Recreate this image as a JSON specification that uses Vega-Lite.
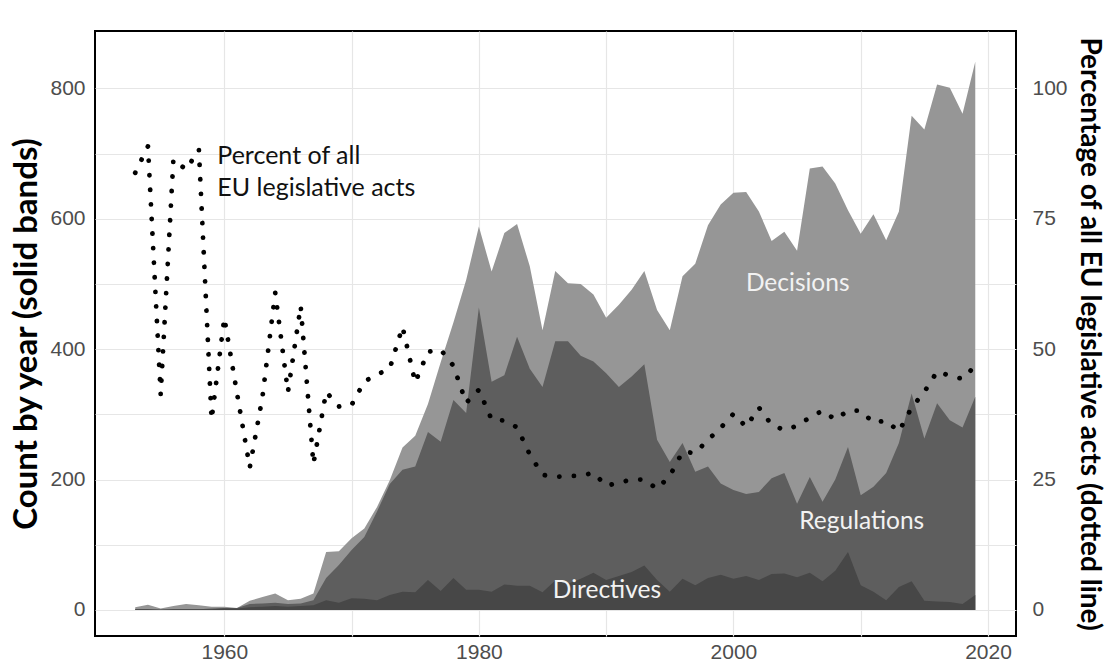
{
  "$schema": "https://vega.github.io/schema/vega-lite/v6.json",
  "autosize": "none",
  "width": 921,
  "height": 605,
  "padding": {"left": 95, "top": 31, "right": 93, "bottom": 30},
  "background": "white",
  "config": {
    "view": {"stroke": "black", "strokeWidth": 2},
    "axis": {
      "labelFont": "Liberation Sans",
      "labelFontSize": 21,
      "labelColor": "#4d4d4d",
      "ticks": false,
      "tickSize": 0,
      "domain": false,
      "gridColor": "#e6e6e6",
      "gridWidth": 1.2,
      "titleFont": "Lato",
      "titleFontWeight": "bold",
      "titleFontSize": 28,
      "titleColor": "black"
    }
  },
  "datasets": {
    "acts": [
      {"year": 1953, "directives": 1, "directives_regulations": 1, "all_acts": 4, "pct": 83.8},
      {"year": 1954, "directives": 1, "directives_regulations": 1, "all_acts": 8, "pct": 88.9},
      {"year": 1955, "directives": 0, "directives_regulations": 1, "all_acts": 2, "pct": 41.3},
      {"year": 1956, "directives": 1, "directives_regulations": 1, "all_acts": 6, "pct": 86.4},
      {"year": 1957, "directives": 1, "directives_regulations": 1, "all_acts": 9, "pct": 84.4},
      {"year": 1958, "directives": 1, "directives_regulations": 1, "all_acts": 7, "pct": 88.3},
      {"year": 1959, "directives": 1, "directives_regulations": 2, "all_acts": 5, "pct": 36.5},
      {"year": 1960, "directives": 2, "directives_regulations": 3, "all_acts": 5, "pct": 56.0},
      {"year": 1961, "directives": 2, "directives_regulations": 3, "all_acts": 3, "pct": 41.5},
      {"year": 1962, "directives": 4, "directives_regulations": 9, "all_acts": 14, "pct": 27.3},
      {"year": 1963, "directives": 5, "directives_regulations": 10, "all_acts": 20, "pct": 40.9},
      {"year": 1964, "directives": 6, "directives_regulations": 11, "all_acts": 25, "pct": 60.8},
      {"year": 1965, "directives": 5, "directives_regulations": 9, "all_acts": 15, "pct": 41.8},
      {"year": 1966, "directives": 6, "directives_regulations": 10, "all_acts": 17, "pct": 58.3},
      {"year": 1967, "directives": 7, "directives_regulations": 15, "all_acts": 25, "pct": 28.0},
      {"year": 1968, "directives": 15, "directives_regulations": 49, "all_acts": 89, "pct": 41.8},
      {"year": 1969, "directives": 11, "directives_regulations": 69, "all_acts": 90, "pct": 39.0},
      {"year": 1970, "directives": 18, "directives_regulations": 92, "all_acts": 110, "pct": 39.3},
      {"year": 1971, "directives": 17, "directives_regulations": 112, "all_acts": 125, "pct": 43.8},
      {"year": 1972, "directives": 15, "directives_regulations": 151, "all_acts": 158, "pct": 45.1},
      {"year": 1973, "directives": 23, "directives_regulations": 193, "all_acts": 199, "pct": 46.3},
      {"year": 1974, "directives": 28, "directives_regulations": 215, "all_acts": 249, "pct": 54.3},
      {"year": 1975, "directives": 27, "directives_regulations": 220, "all_acts": 267, "pct": 43.6},
      {"year": 1976, "directives": 46, "directives_regulations": 273, "all_acts": 316, "pct": 49.5},
      {"year": 1977, "directives": 29, "directives_regulations": 258, "all_acts": 380, "pct": 49.9},
      {"year": 1978, "directives": 49, "directives_regulations": 322, "all_acts": 441, "pct": 46.8},
      {"year": 1979, "directives": 31, "directives_regulations": 302, "all_acts": 506, "pct": 39.7},
      {"year": 1980, "directives": 31, "directives_regulations": 464, "all_acts": 588, "pct": 42.2},
      {"year": 1981, "directives": 28, "directives_regulations": 350, "all_acts": 519, "pct": 36.5},
      {"year": 1982, "directives": 39, "directives_regulations": 360, "all_acts": 578, "pct": 36.3},
      {"year": 1983, "directives": 37, "directives_regulations": 419, "all_acts": 592, "pct": 35.0},
      {"year": 1984, "directives": 37, "directives_regulations": 370, "all_acts": 527, "pct": 29.8},
      {"year": 1985, "directives": 27, "directives_regulations": 342, "all_acts": 429, "pct": 25.9},
      {"year": 1986, "directives": 45, "directives_regulations": 412, "all_acts": 520, "pct": 25.5},
      {"year": 1987, "directives": 40, "directives_regulations": 412, "all_acts": 501, "pct": 25.7},
      {"year": 1988, "directives": 48, "directives_regulations": 390, "all_acts": 500, "pct": 25.7},
      {"year": 1989, "directives": 57, "directives_regulations": 381, "all_acts": 484, "pct": 26.3},
      {"year": 1990, "directives": 46, "directives_regulations": 363, "all_acts": 448, "pct": 23.8},
      {"year": 1991, "directives": 52, "directives_regulations": 342, "all_acts": 468, "pct": 24.4},
      {"year": 1992, "directives": 58, "directives_regulations": 358, "all_acts": 491, "pct": 25.0},
      {"year": 1993, "directives": 68, "directives_regulations": 377, "all_acts": 520, "pct": 25.0},
      {"year": 1994, "directives": 46, "directives_regulations": 261, "all_acts": 460, "pct": 23.2},
      {"year": 1995, "directives": 28, "directives_regulations": 227, "all_acts": 429, "pct": 25.7},
      {"year": 1996, "directives": 48, "directives_regulations": 256, "all_acts": 512, "pct": 30.3},
      {"year": 1997, "directives": 38, "directives_regulations": 212, "all_acts": 531, "pct": 30.1},
      {"year": 1998, "directives": 49, "directives_regulations": 220, "all_acts": 590, "pct": 32.6},
      {"year": 1999, "directives": 54, "directives_regulations": 194, "all_acts": 622, "pct": 34.9},
      {"year": 2000, "directives": 48, "directives_regulations": 184, "all_acts": 640, "pct": 37.6},
      {"year": 2001, "directives": 52, "directives_regulations": 178, "all_acts": 641, "pct": 35.1},
      {"year": 2002, "directives": 46, "directives_regulations": 181, "all_acts": 611, "pct": 38.8},
      {"year": 2003, "directives": 55, "directives_regulations": 202, "all_acts": 566, "pct": 35.5},
      {"year": 2004, "directives": 56, "directives_regulations": 210, "all_acts": 580, "pct": 34.5},
      {"year": 2005, "directives": 50, "directives_regulations": 163, "all_acts": 551, "pct": 35.3},
      {"year": 2006, "directives": 57, "directives_regulations": 204, "all_acts": 677, "pct": 36.9},
      {"year": 2007, "directives": 44, "directives_regulations": 166, "all_acts": 680, "pct": 38.2},
      {"year": 2008, "directives": 60, "directives_regulations": 200, "all_acts": 654, "pct": 36.5},
      {"year": 2009, "directives": 89, "directives_regulations": 250, "all_acts": 613, "pct": 38.2},
      {"year": 2010, "directives": 38, "directives_regulations": 176, "all_acts": 577, "pct": 38.2},
      {"year": 2011, "directives": 28, "directives_regulations": 189, "all_acts": 607, "pct": 35.9},
      {"year": 2012, "directives": 15, "directives_regulations": 210, "all_acts": 567, "pct": 36.3},
      {"year": 2013, "directives": 35, "directives_regulations": 256, "all_acts": 611, "pct": 34.2},
      {"year": 2014, "directives": 44, "directives_regulations": 332, "all_acts": 758, "pct": 38.8},
      {"year": 2015, "directives": 14, "directives_regulations": 263, "all_acts": 737, "pct": 41.8},
      {"year": 2016, "directives": 13, "directives_regulations": 317, "all_acts": 806, "pct": 45.7},
      {"year": 2017, "directives": 12, "directives_regulations": 291, "all_acts": 801, "pct": 44.9},
      {"year": 2018, "directives": 9, "directives_regulations": 280, "all_acts": 761, "pct": 44.3},
      {"year": 2019, "directives": 23, "directives_regulations": 327, "all_acts": 841, "pct": 46.8}
    ],
    "band_labels": [
      {"year": 2005.05, "count": 500, "label": "Decisions"},
      {"year": 2010.08, "count": 135, "label": "Regulations"},
      {"year": 1990.06, "count": 29, "label": "Directives"}
    ],
    "note": [
      {"year": 1959.45, "count": 697, "label": "Percent of all"},
      {"year": 1959.45, "count": 647, "label": "EU legislative acts"}
    ]
  },
  "layer": [
    {
      "layer": [
        {
          "data": {"name": "acts"},
          "mark": {"type": "area", "color": "#969696", "interpolate": "linear"},
          "encoding": {
            "x": {"field": "year", "type": "quantitative",
              "scale": {"domain": [1949.84, 2022.2], "nice": false, "zero": false},
              "axis": {"title": null, "values": [1960, 1970, 1980, 1990, 2000, 2010, 2020], "format": "d",
                "labelExpr": "datum.value % 20 == 0 ? datum.label : ''", "labelPadding": 5, "grid": true}},
            "y": {"field": "all_acts", "type": "quantitative",
              "scale": {"domain": [-40, 888], "nice": false, "zero": false},
              "axis": {"title": "Count by year (solid bands)", "orient": "left",
                "values": [0, 100, 200, 300, 400, 500, 600, 700, 800],
                "labelExpr": "datum.value % 200 == 0 ? datum.label : ''",
                "labelPadding": 10, "titlePadding": 6, "titleFontSize": 33, "grid": true}}
          }
        },
        {
          "data": {"name": "acts"},
          "mark": {"type": "area", "color": "#5e5e5e", "interpolate": "linear"},
          "encoding": {
            "x": {"field": "year", "type": "quantitative", "title": null},
            "y": {"field": "directives_regulations", "type": "quantitative", "title": "Count by year (solid bands)"}
          }
        },
        {
          "data": {"name": "acts"},
          "mark": {"type": "area", "color": "#474747", "interpolate": "linear"},
          "encoding": {
            "x": {"field": "year", "type": "quantitative", "title": null},
            "y": {"field": "directives", "type": "quantitative", "title": "Count by year (solid bands)"}
          }
        },
        {
          "data": {"name": "band_labels"},
          "mark": {"type": "text", "font": "Lato", "fontSize": 24.5, "color": "#f2f2f2", "align": "center", "baseline": "middle"},
          "encoding": {
            "x": {"field": "year", "type": "quantitative", "title": null},
            "y": {"field": "count", "type": "quantitative", "title": "Count by year (solid bands)"},
            "text": {"field": "label"}
          }
        },
        {
          "data": {"name": "note"},
          "mark": {"type": "text", "font": "Lato", "fontSize": 25, "color": "#111111", "align": "left", "baseline": "middle"},
          "encoding": {
            "x": {"field": "year", "type": "quantitative", "title": null},
            "y": {"field": "count", "type": "quantitative", "title": "Count by year (solid bands)"},
            "text": {"field": "label"}
          }
        }
      ]
    },
    {
      "data": {"name": "acts"},
      "mark": {"type": "line", "color": "black", "strokeWidth": 4.8, "strokeCap": "round", "strokeDash": [0.1, 14.5]},
      "encoding": {
        "x": {"field": "year", "type": "quantitative", "title": null},
        "y": {"field": "pct", "type": "quantitative",
          "scale": {"domain": [-5, 111], "nice": false, "zero": false},
          "axis": {"title": "Percentage of all EU legislative acts (dotted line)", "orient": "right",
            "values": [0, 25, 50, 75, 100], "grid": false, "labelPadding": 16, "titlePadding": 7, "titleFontSize": 28}}
      }
    }
  ],
  "resolve": {"scale": {"y": "independent"}, "axis": {"y": "independent"}}
}
